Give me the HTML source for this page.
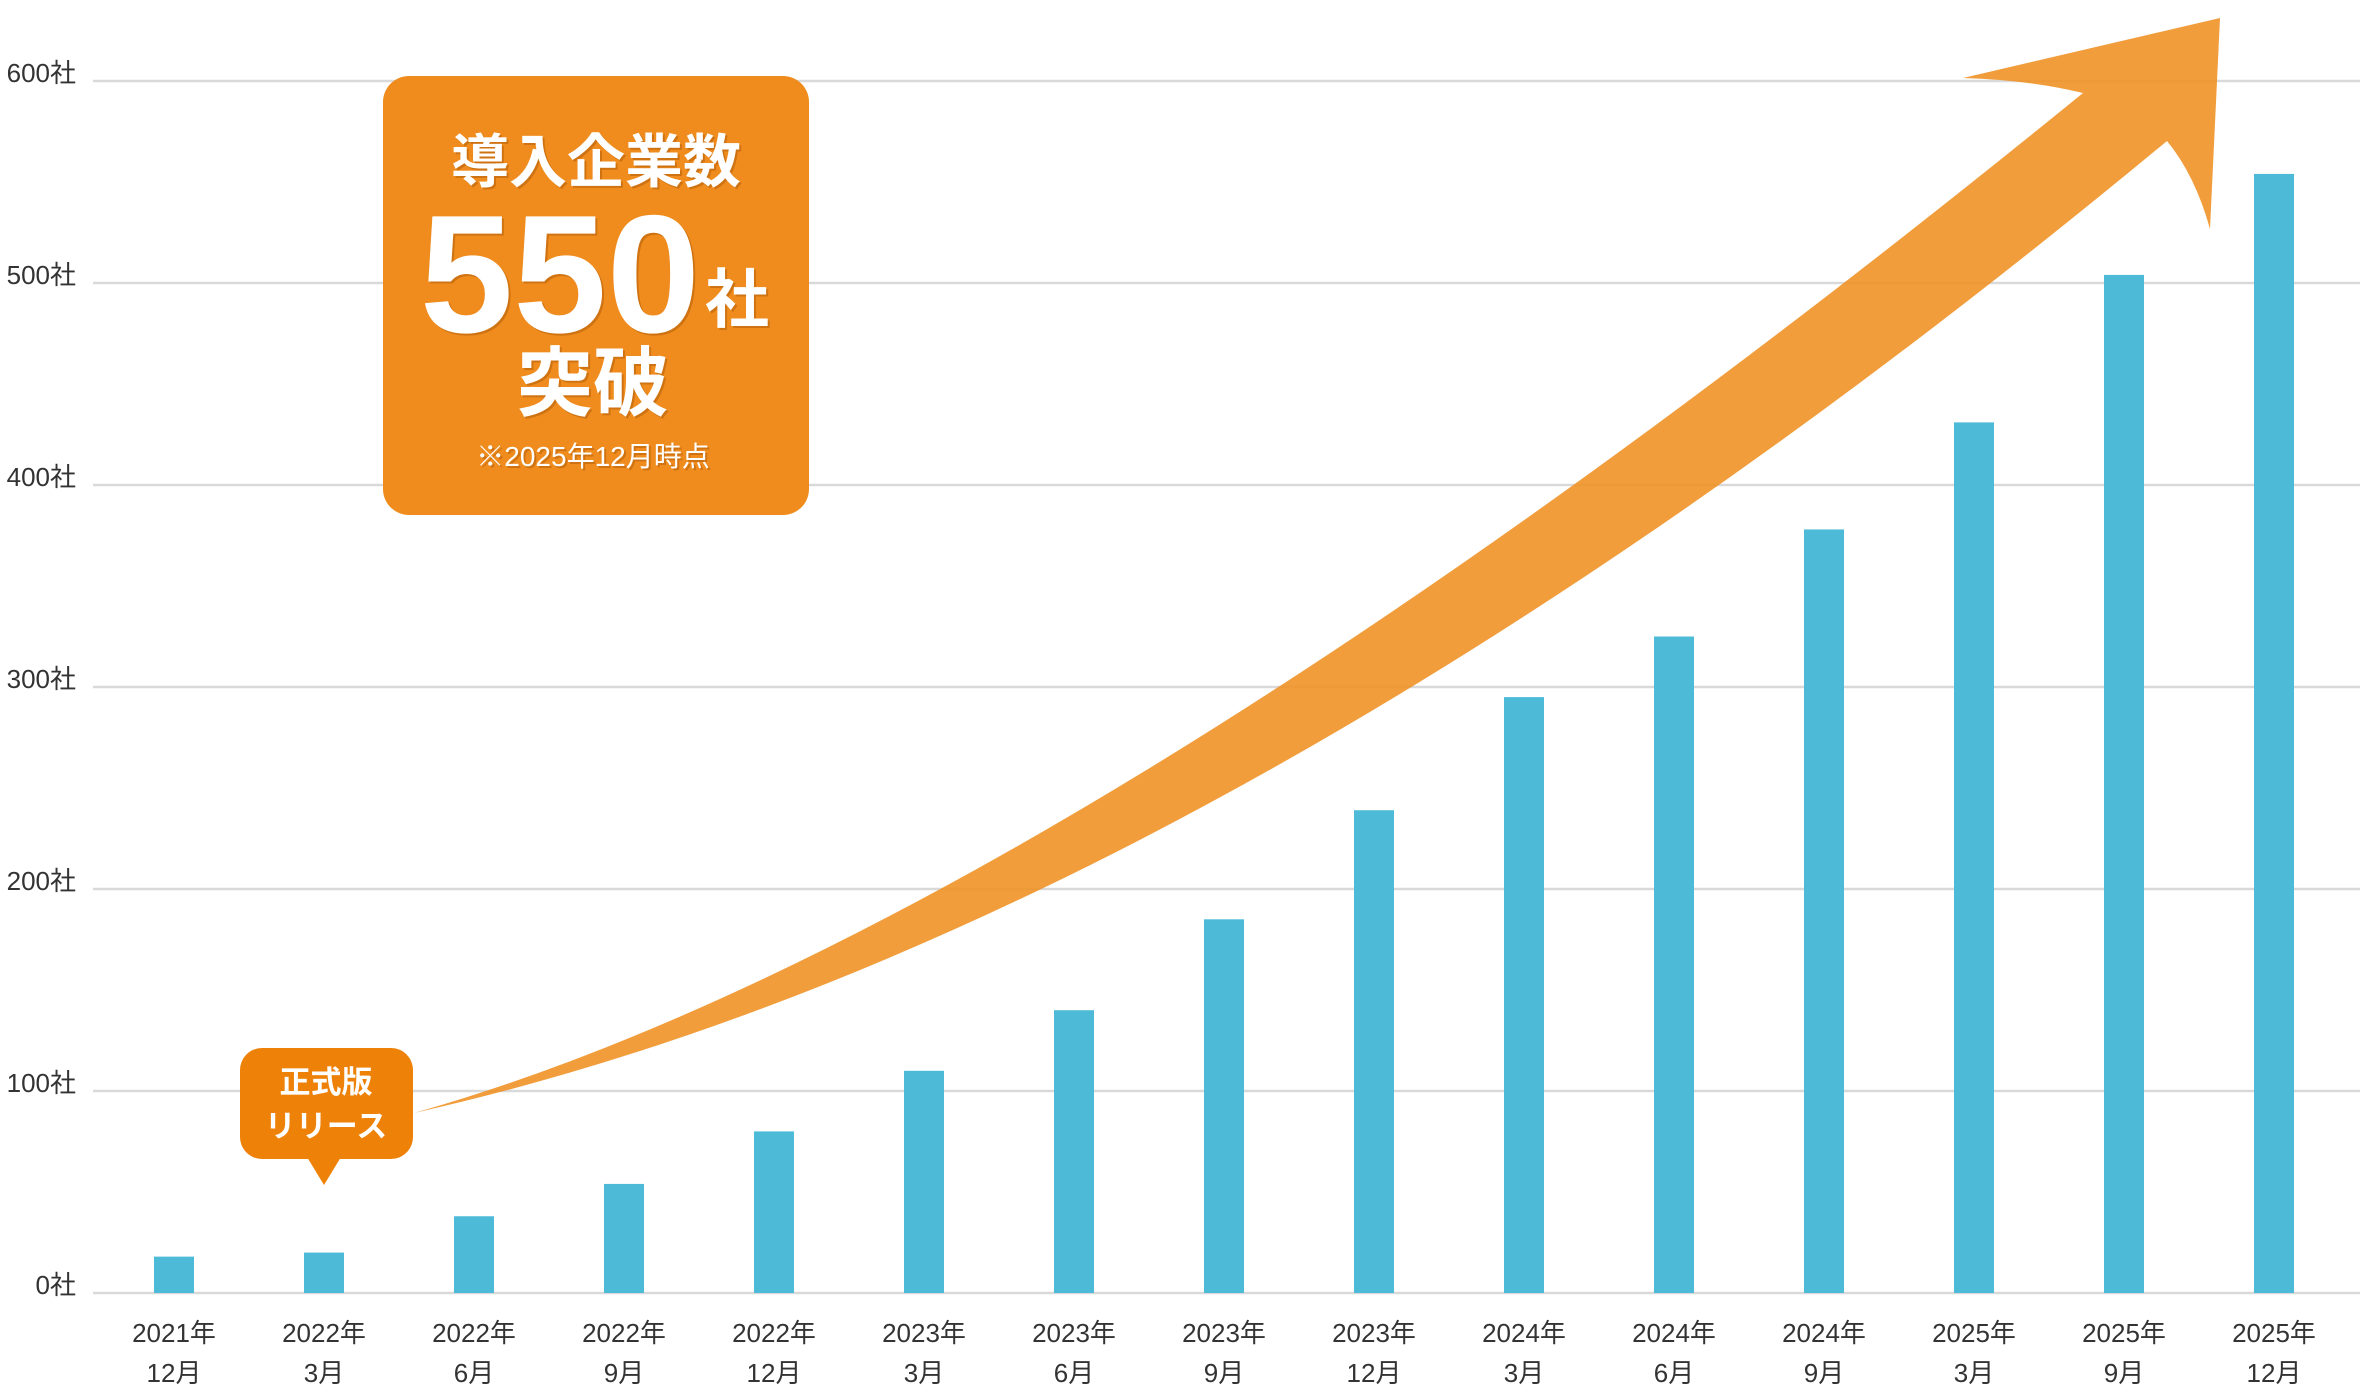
<!DOCTYPE html>
<html><head><meta charset="utf-8"><style>
html,body{margin:0;padding:0;background:#fff;}
svg{display:block;}
text{font-family:"Liberation Sans","Noto Sans CJK JP",sans-serif;}
</style></head><body>
<svg id="chart" width="2360" height="1400" viewBox="0 0 2360 1400">
<g id="grid"></g>
<g id="ylabels"></g>
<g id="bars"></g>
<g id="xlabels"></g>
<path fill="rgb(239,143,33)" fill-opacity="0.88"
 d="M414,1113 Q1051,933 2083,93 Q2030,80 1963,78 L2220,18 L2210,229 Q2195,175 2167,141 Q1209,935 414,1113 Z"/>
<g>
<rect x="383" y="76" width="426" height="439" rx="26" fill="#ef8c1d"/>
<g fill="#fff" style="filter:drop-shadow(2px 2px 0 rgba(150,70,0,0.35))" font-weight="bold" text-anchor="middle">
<text x="596" y="182" font-size="58">導入企業数</text>
<text x="560" y="332" font-size="168" letter-spacing="0">550</text>
<text x="737" y="322" font-size="64">社</text>
<text x="593" y="410" font-size="76">突破</text>
<text x="593" y="466" font-size="28" font-weight="normal">※2025年12月時点</text>
</g>
</g>
<g>
<rect x="240" y="1048" width="173" height="111" rx="22" fill="#ee8208"/>
<polygon points="307,1157 341,1157 324,1185" fill="#ee8208"/>
<text x="326" y="1093" font-size="31" font-weight="bold" fill="#fff" text-anchor="middle">正式版</text>
<text x="326" y="1137" font-size="31" font-weight="bold" fill="#fff" text-anchor="middle">リリース</text>
</g>
</svg>
<script>
const categoriesYear=["2021年","2022年","2022年","2022年","2022年","2023年","2023年","2023年","2023年","2024年","2024年","2024年","2025年","2025年","2025年"];
const categoriesMonth=["12月","3月","6月","9月","12月","3月","6月","9月","12月","3月","6月","9月","3月","9月","12月"];
const companies=[18,20,38,54,80,110,140,185,239,295,325,378,431,504,554];
const yTicks=[0,100,200,300,400,500,600];
const yTickLabels=["0社","100社","200社","300社","400社","500社","600社"];
const NS="http://www.w3.org/2000/svg";
const y0=1293,pxPer=2.02;
function yScale(v){return y0-v*pxPer;}
function xScale(i){return 174+i*150;}
function mk(t,a,p){const e=document.createElementNS(NS,t);for(const k in a)e.setAttribute(k,a[k]);p.appendChild(e);return e;}
const grid=document.getElementById('grid'),yl=document.getElementById('ylabels'),bars=document.getElementById('bars'),xl=document.getElementById('xlabels');
yTicks.forEach((v,i)=>{
 const l=mk('line',{x1:93,x2:2360,y1:yScale(v),y2:yScale(v),stroke:'#d9d9d9','stroke-width':2.5},grid);
 
 
 const t=mk('text',{x:76,y:yScale(v)+1,'font-size':26,fill:'#333','text-anchor':'end'},yl);
 t.textContent=yTickLabels[i];
 
 
});
companies.forEach((v,i)=>{
 const r=mk('rect',{x:xScale(i)-20,y:yScale(v),width:40,height:v*pxPer,fill:'#4dbbd7'},bars);
 
 
 const t1=mk('text',{x:xScale(i),y:1342,'font-size':26,fill:'#333','text-anchor':'middle'},xl);
 t1.textContent=categoriesYear[i];
 
 
 const t2=mk('text',{x:xScale(i),y:1382,'font-size':26,fill:'#333','text-anchor':'middle'},xl);
 t2.textContent=categoriesMonth[i];
 
 
});
</script>
</body></html>
